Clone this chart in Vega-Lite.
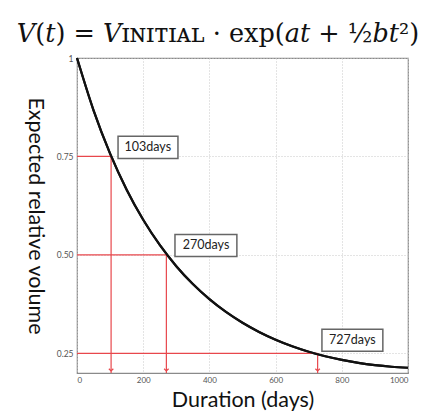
{
  "$schema": "https://vega.github.io/schema/vega-lite/v6.json",
  "width": 331,
  "height": 315,
  "autosize": "none",
  "padding": {"left": 77, "top": 58, "right": 24, "bottom": 43},
  "background": "white",
  "title": {
    "text": "𝑉(𝑡) = 𝑉ɪɴɪᴛɪᴀʟ · exp(𝑎𝑡 + ½𝑏𝑡²)",
    "font": "DejaVu Serif",
    "fontSize": 25.5,
    "fontWeight": "normal",
    "color": "#111",
    "anchor": "middle",
    "frame": "bounds",
    "offset": 6
  },
  "config": {
    "view": {"stroke": "#8a8a8a", "strokeWidth": 1.2},
    "axis": {
      "labelFont": "Lato",
      "labelFontSize": 8.5,
      "labelColor": "#555",
      "labelOverlap": false,
      "ticks": false,
      "domain": false,
      "grid": true,
      "gridColor": "#c8c8c8",
      "gridDash": [1, 2],
      "gridWidth": 1,
      "titleFont": "Lato",
      "titleFontSize": 21.5,
      "titleFontWeight": "normal",
      "titleColor": "#111"
    },
    "axisX": {"labelOverlap": false, "labelFontSize": 8, "labelBound": false}
  },
  "datasets": {
    "curve": [
      {"t": 0, "v": 1.0}, {"t": 50, "v": 0.8671}, {"t": 100, "v": 0.7571},
      {"t": 150, "v": 0.6656}, {"t": 200, "v": 0.5892}, {"t": 250, "v": 0.5252},
      {"t": 300, "v": 0.4713}, {"t": 350, "v": 0.4259}, {"t": 400, "v": 0.3875},
      {"t": 450, "v": 0.355}, {"t": 500, "v": 0.3275}, {"t": 550, "v": 0.3042},
      {"t": 600, "v": 0.2845}, {"t": 650, "v": 0.2679}, {"t": 700, "v": 0.254},
      {"t": 750, "v": 0.2425}, {"t": 800, "v": 0.2332}, {"t": 850, "v": 0.2257},
      {"t": 900, "v": 0.22}, {"t": 950, "v": 0.2159}, {"t": 1000, "v": 0.2133}
    ],
    "ann": [
      {"t": 103, "v": 0.75, "label": "103days", "bx0": 124, "bx1": 305, "by0": 0.745, "by1": 0.801, "cx": 214, "cy": 0.773},
      {"t": 270, "v": 0.5, "label": "270days", "bx0": 296, "bx1": 483, "by0": 0.496, "by1": 0.552, "cx": 390, "cy": 0.524},
      {"t": 727, "v": 0.25, "label": "727days", "bx0": 740, "bx1": 924, "by0": 0.255, "by1": 0.311, "cx": 832, "cy": 0.283}
    ]
  },
  "layer": [
    {
      "data": {"name": "curve"},
      "mark": {"type": "line", "color": "#111", "strokeWidth": 2.2, "interpolate": "monotone"},
      "encoding": {
        "x": {
          "field": "t",
          "type": "quantitative",
          "scale": {"domain": [0, 1000], "nice": false},
          "axis": {"values": [0,100,200,300,400,500,600,700,800,900,1000], "format": "d", "labelOverlap": false, "labelFontSize": 8, "title": "Duration (days)", "labelPadding": 3, "titlePadding": 5}
        },
        "y": {
          "field": "v",
          "type": "quantitative",
          "scale": {"domain": [0.2, 1], "nice": false, "zero": false},
          "axis": {"values": [0.25, 0.5, 0.75, 1], "labelExpr": "datum.value == 1 ? '1' : format(datum.value, '.2f')", "title": "Expected relative volume", "titleAngle": 90, "titlePadding": 33, "labelPadding": 4}
        }
      }
    },
    {
      "data": {"name": "ann"},
      "mark": {"type": "rule", "color": "#e8474c", "strokeWidth": 1.2},
      "encoding": {"x": {"field": "t", "type": "quantitative"}, "x2": {"datum": 0}, "y": {"field": "v", "type": "quantitative"}}
    },
    {
      "data": {"name": "ann"},
      "mark": {"type": "rule", "color": "#e8474c", "strokeWidth": 1.2},
      "encoding": {"x": {"field": "t", "type": "quantitative"}, "y": {"field": "v", "type": "quantitative"}, "y2": {"datum": 0.2}}
    },
    {
      "data": {"name": "ann"},
      "mark": {"type": "point", "shape": "M-1,-1L0,0L1,-1", "filled": false, "stroke": "#e8474c", "strokeWidth": 1.2, "size": 20, "yOffset": -2, "opacity": 1},
      "encoding": {"x": {"field": "t", "type": "quantitative"}, "y": {"datum": 0.2, "type": "quantitative"}}
    },
    {
      "data": {"name": "curve"},
      "mark": {"type": "line", "color": "#111", "strokeWidth": 2.2, "interpolate": "monotone"},
      "encoding": {"x": {"field": "t", "type": "quantitative"}, "y": {"field": "v", "type": "quantitative"}}
    },
    {
      "data": {"name": "ann"},
      "mark": {"type": "rect", "fill": "white", "stroke": "#666", "strokeWidth": 1.5},
      "encoding": {"x": {"field": "bx0", "type": "quantitative"}, "x2": {"field": "bx1"}, "y": {"field": "by0", "type": "quantitative"}, "y2": {"field": "by1"}}
    },
    {
      "data": {"name": "ann"},
      "mark": {"type": "text", "font": "Lato", "fontSize": 12.5, "color": "#222"},
      "encoding": {"x": {"field": "cx", "type": "quantitative"}, "y": {"field": "cy", "type": "quantitative"}, "text": {"field": "label"}}
    }
  ]
}
